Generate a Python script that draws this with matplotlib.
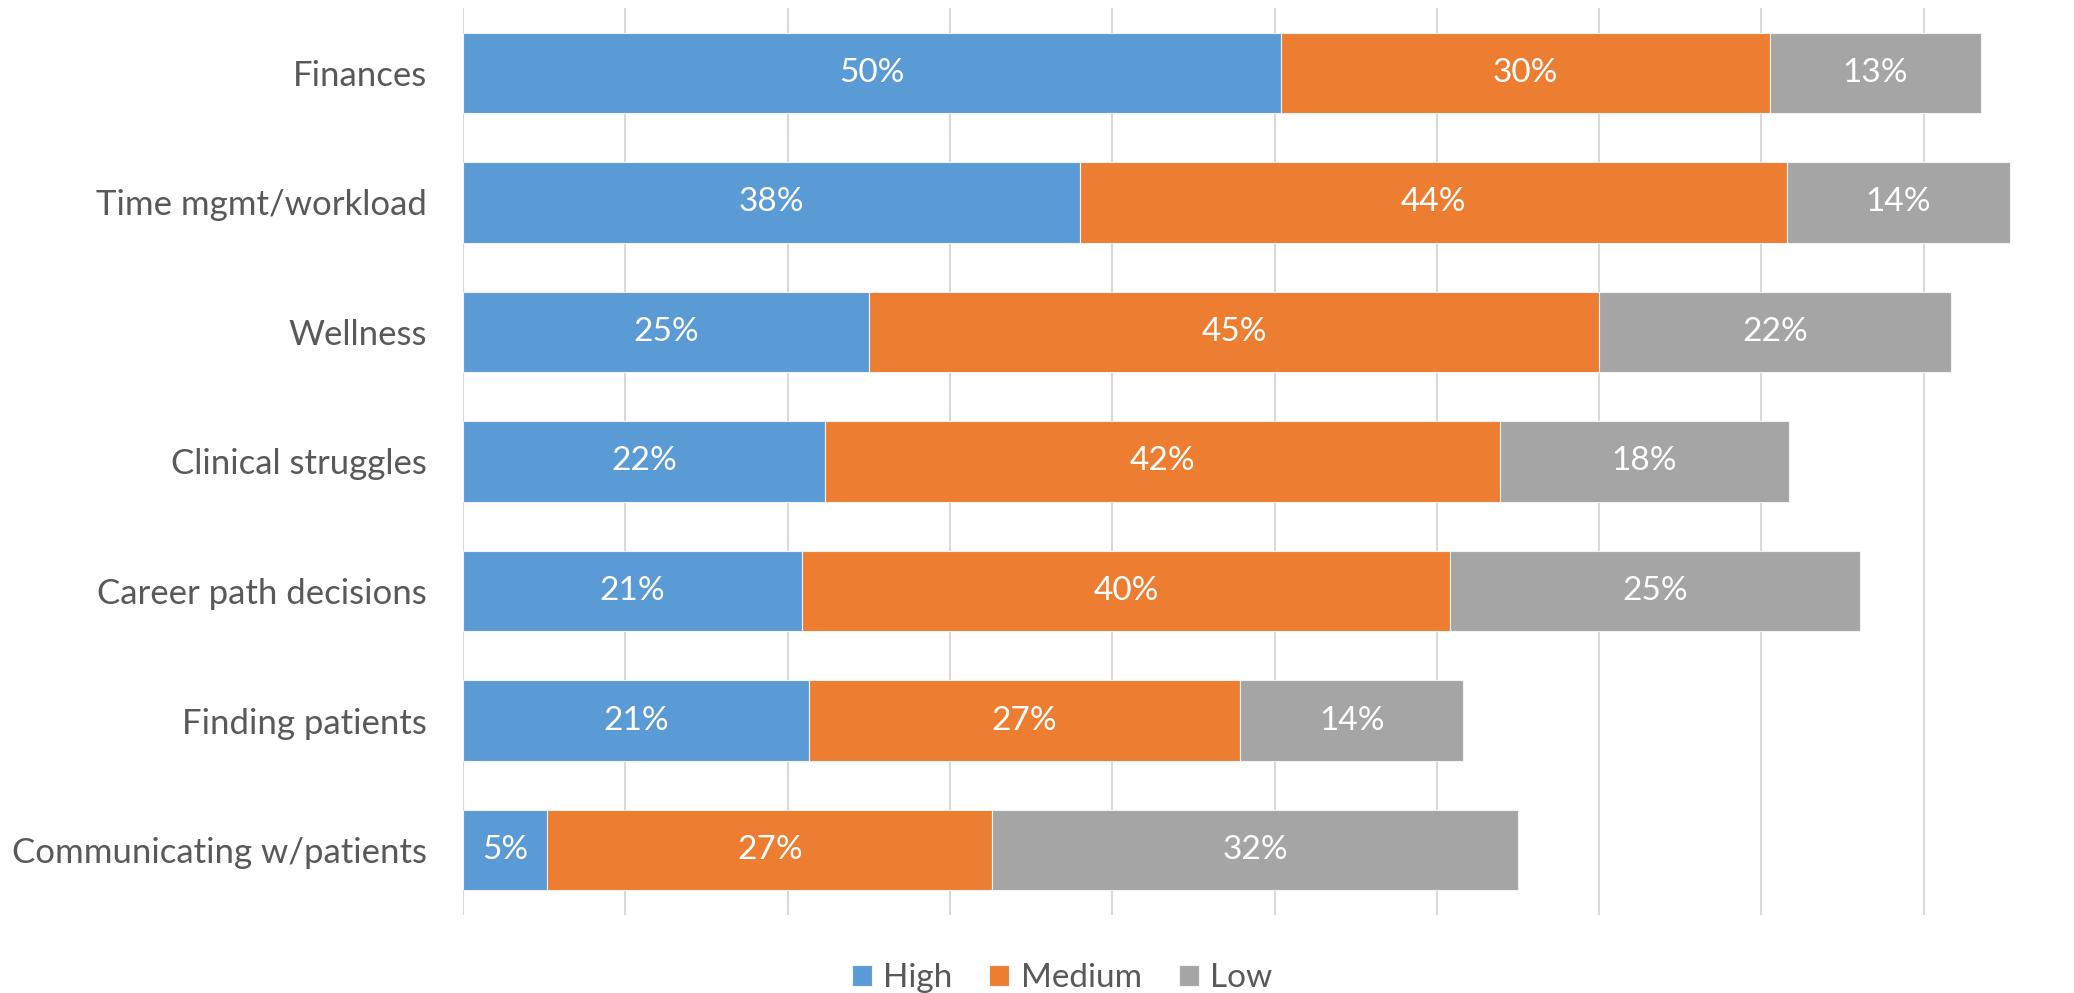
import numpy as np
import matplotlib
matplotlib.use("Agg")
import matplotlib.pyplot as plt

plt.rcParams['font.family'] = ['Lato', 'DejaVu Sans']

categories = ["Finances", "Time mgmt/workload", "Wellness", "Clinical struggles",
              "Career path decisions", "Finding patients", "Communicating w/patients"]
high = [50.4, 38.0, 25.0, 22.3, 20.9, 21.3, 5.2]
medium = [30.1, 43.6, 45.0, 41.6, 39.9, 26.6, 27.4]
low = [13.0, 13.7, 21.7, 17.8, 25.3, 13.7, 32.4]

series = [("High", high, "#5B9BD5"), ("Medium", medium, "#ED7D31"), ("Low", low, "#A5A5A5")]

W, H = 2074, 993
fig = plt.figure(figsize=(W / 100, H / 100), dpi=100)
# plot area: left 463px, right ~2086px (chart cropped at right), top 8px, bottom 915px
ax = fig.add_axes([463 / W, 1 - 915 / H, (2086 - 463) / W, (915 - 8) / H])

y = np.arange(len(categories))
left = np.zeros(len(categories))
for name, vals, color in series:
    vals = np.array(vals)
    bars = ax.barh(y, vals, left=left, height=0.62, color=color, label=name,
                   edgecolor="#F2F2F2", linewidth=0.8, zorder=3)
    for yi, l, v in zip(y, left, vals):
        ax.text(l + v / 2, yi, f"{round(v):.0f}%", ha="center", va="center",
                color="white", fontsize=24, zorder=4)
    left += vals

ax.set_xlim(0, 100)
ax.set_ylim(len(categories) - 0.5, -0.5)
ax.set_xticks(np.arange(0, 101, 10))
ax.set_xticklabels([])
ax.set_yticks(y)
ax.set_yticklabels(categories, fontsize=25, color="#595959")
ax.tick_params(axis="both", length=0)
ax.tick_params(axis="y", pad=26)
ax.grid(axis="x", color="#D9D9D9", linewidth=1.5, zorder=0)
for s in ax.spines.values():
    s.set_visible(False)

fig.legend(loc="center", bbox_to_anchor=(1062 / W, 1 - 978 / H), ncol=3, frameon=False,
           fontsize=24, handlelength=0.6, handleheight=0.6, handletextpad=0.35,
           columnspacing=1.1, labelcolor="#595959")

fig.savefig("out.png", dpi=100)
